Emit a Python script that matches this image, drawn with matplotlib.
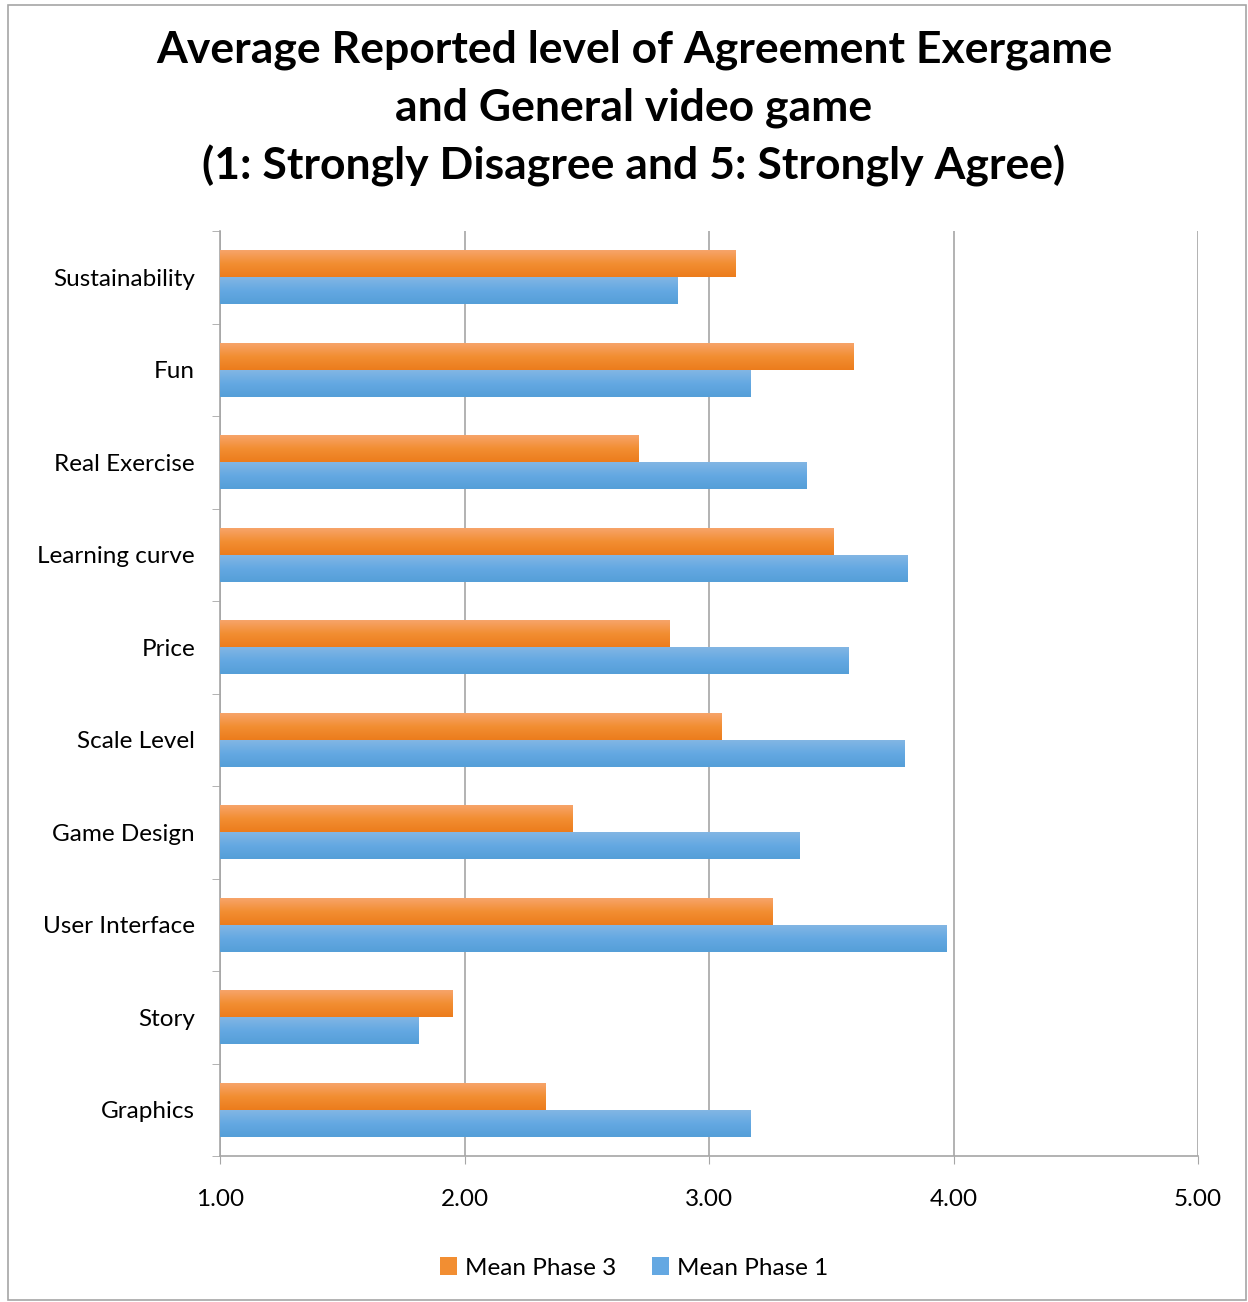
import matplotlib
matplotlib.use("Agg")
import matplotlib.pyplot as plt
import numpy as np
from matplotlib.colors import LinearSegmentedColormap
from matplotlib.patches import Rectangle, Patch

categories = ["Sustainability", "Fun", "Real Exercise", "Learning curve", "Price",
              "Scale Level", "Game Design", "User Interface", "Story", "Graphics"]
phase3 = [3.11, 3.59, 2.71, 3.51, 2.84, 3.05, 2.44, 3.26, 1.95, 2.33]
phase1 = [2.87, 3.17, 3.40, 3.81, 3.57, 3.80, 3.37, 3.97, 1.81, 3.17]
xticks = [1.0, 2.0, 3.0, 4.0, 5.0]
series_names = ["Mean Phase 3", "Mean Phase 1"]

plt.rcParams['font.family'] = ['Lato', 'DejaVu Sans']

fig = plt.figure(figsize=(12.48, 13.02), dpi=100)
ax = fig.add_axes([220/1248, 1-1156/1302, (1198-220)/1248, (1156-231)/1302])

# figure border
fig.patches.append(Rectangle((8/1248, 2/1302), 1238/1248, 1-7/1302, transform=fig.transFigure,
                             fill=False, edgecolor='#a6a6a6', linewidth=1.2))

n = len(categories)
y = np.arange(n)[::-1]
h = 0.29
orange_cmap = LinearSegmentedColormap.from_list('o', ['#f7a46a', '#f28e32', '#ec7c1c'])
blue_cmap = LinearSegmentedColormap.from_list('b', ['#82b6e4', '#64a8e2', '#559fd8'])

bars3 = ax.barh(y + h/2, np.array(phase3) - 1, left=1, height=h, color='#f28e32', zorder=2, label=series_names[0])
bars1 = ax.barh(y - h/2, np.array(phase1) - 1, left=1, height=h, color='#64a8e2', zorder=2, label=series_names[1])

grad = np.linspace(0, 1, 64).reshape(-1, 1)
for bars, cmap in ((bars3, orange_cmap), (bars1, blue_cmap)):
    for b in bars:
        x0, y0 = b.get_x(), b.get_y()
        w, hh = b.get_width(), b.get_height()
        im = ax.imshow(grad, cmap=cmap, aspect='auto', origin='upper',
                       extent=(x0, x0 + w, y0, y0 + hh), zorder=3)
        im.set_clip_path(b)
ax.set_xlim(1, 5)
ax.set_ylim(-0.5, n - 0.5)

fs = 17.5
ax.set_xticks(xticks)
ax.set_xticklabels([f"{v:.2f}" for v in xticks], fontsize=fs)
ax.set_yticks(y)
ax.set_yticklabels(categories, fontsize=fs)
ax.set_yticks(np.arange(-0.5, n, 1.0), minor=True)
ax.tick_params(axis='y', which='major', length=0, pad=18)
ax.tick_params(axis='y', which='minor', length=6, color='#a6a6a6', direction='out')
ax.tick_params(axis='x', which='major', length=6, color='#a6a6a6', direction='out', pad=18)
ax.grid(axis='x', color='#a6a6a6', linewidth=1.2, zorder=0)
ax.set_axisbelow(True)
for s in ['top', 'right']:
    ax.spines[s].set_visible(False)
for s in ['left', 'bottom']:
    ax.spines[s].set_color('#a6a6a6')
    ax.spines[s].set_linewidth(1.2)

fig.text(0.508, 1 - 30/1302, "Average Reported level of Agreement Exergame\nand General video game\n(1: Strongly Disagree and 5: Strongly Agree)",
         ha='center', va='top', fontsize=32, fontweight='bold', linespacing=1.5)

handles = [Patch(facecolor='#f28e32'), Patch(facecolor='#64a8e2')]
fig.legend(handles, series_names, loc='center', bbox_to_anchor=(0.508, 1-1268/1302), ncol=2,
           frameon=False, fontsize=fs, handlelength=0.7, handleheight=0.7, handletextpad=0.3,
           columnspacing=1.5)

fig.savefig("out.png", dpi=100)
